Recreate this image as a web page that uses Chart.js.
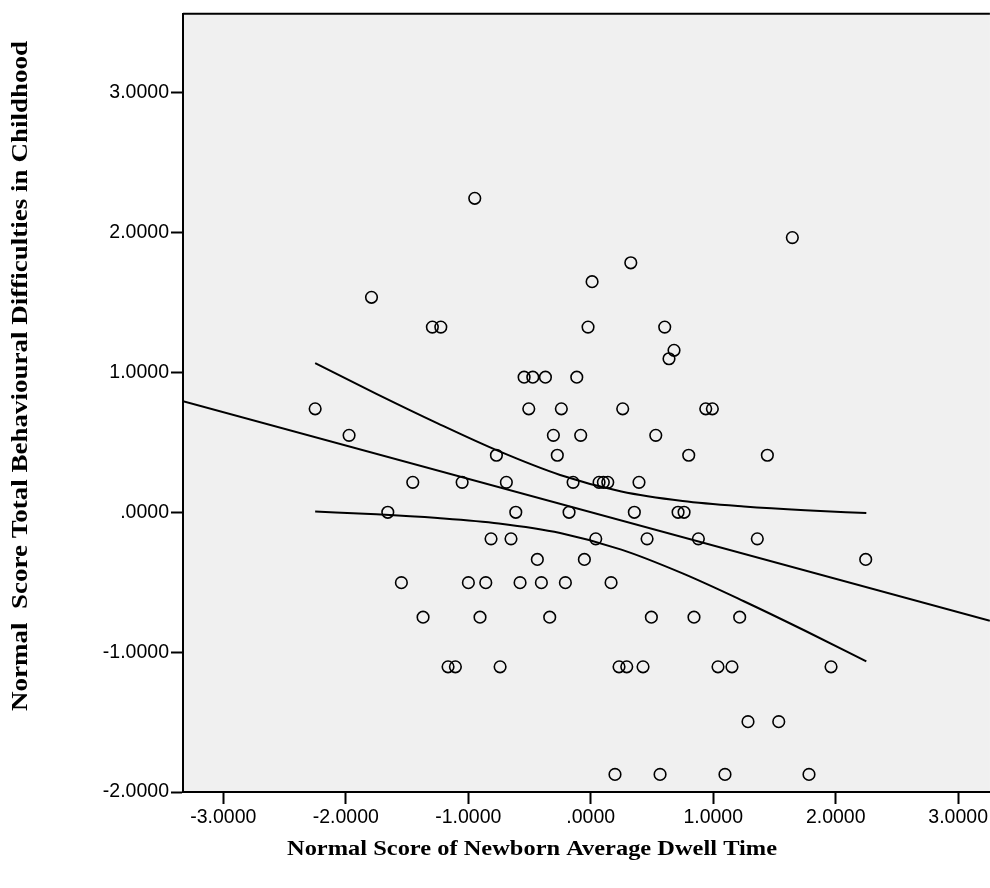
<!DOCTYPE html>
<html>
<head>
<meta charset="utf-8">
<script src="https://cdn.jsdelivr.net/npm/chart.js@4.4.1/dist/chart.umd.min.js"></script>
<style>
  html, body { margin: 0; padding: 0; background: #fff; }
</style>
</head>
<body>
<canvas id="scatterChart" width="990" height="888"></canvas>
<script>
// Observed cases (normal scores)
const dwellScore = [
  -0.947, 1.646, 0.327, 0.011, -1.790, -1.293, -1.224, -0.022, 0.604, 0.680,
  0.639, -0.544, -0.473, -0.370, -0.114, -2.250, -0.506, -0.240, 0.261, 0.939,
  0.993, -1.973, -0.305, -0.082, 0.531, -0.770, -0.273, 0.800, 1.442, -1.453,
  -1.050, -0.689, -0.144, 0.068, 0.103, 0.139, 0.394, -1.657, -0.612, -0.177,
  0.356, 0.713, 0.762, -0.814, -0.651, 0.041, 0.460, 0.879, 1.360, -0.436,
  -0.052, 2.245, -1.546, -0.999, -0.857, -0.577, -0.403, -0.207, 0.166, -1.369,
  -0.904, -0.335, 0.495, 0.843, 1.216, -1.165, -1.105, -0.740, 0.231, 0.294,
  0.427, 1.039, 1.153, 1.962, 1.284, 1.535, 0.198, 0.566, 1.096, 1.782
];
const behaviourScore = [
  2.245, 1.964, 1.784, 1.649, 1.537, 1.324, 1.324, 1.324, 1.324, 1.158,
  1.098, 0.966, 0.966, 0.966, 0.966, 0.740, 0.740, 0.740, 0.740, 0.740,
  0.740, 0.550, 0.550, 0.550, 0.550, 0.408, 0.408, 0.408, 0.408, 0.214,
  0.214, 0.214, 0.214, 0.214, 0.214, 0.214, 0.214, 0.000, 0.000, 0.000,
  0.000, 0.000, 0.000, -0.190, -0.190, -0.190, -0.190, -0.190, -0.190, -0.337,
  -0.337, -0.337, -0.503, -0.503, -0.503, -0.503, -0.503, -0.503, -0.503, -0.750,
  -0.750, -0.750, -0.750, -0.750, -0.750, -1.105, -1.105, -1.105, -1.105, -1.105,
  -1.105, -1.105, -1.105, -1.105, -1.497, -1.497, -1.874, -1.874, -1.874, -1.874
];

// Fit line, read at the two plot edges
const fitX = [-3.329, 3.259];
const fitY = [0.794, -0.775];

// 95% confidence band
const bandX = [-2.25, -1.75, -1.25, -0.75, -0.25, 0.25, 0.75, 1.25, 1.75, 2.25];
const bandUpper = [1.066, 0.847, 0.636, 0.437, 0.267, 0.148, 0.080, 0.041, 0.014, -0.005];
const bandLower = [0.005, -0.014, -0.041, -0.080, -0.148, -0.267, -0.437, -0.636, -0.847, -1.066];

// Axes
const xTickValues = [-3, -2, -1, 0, 1, 2, 3];
const xTickLabels = ['-3.0000', '-2.0000', '-1.0000', '.0000', '1.0000', '2.0000', '3.0000'];
const yTickValues = [-2, -1, 0, 1, 2, 3];
const yTickLabels = ['-2.0000', '-1.0000', '.0000', '1.0000', '2.0000', '3.0000'];
const xTitle = 'Normal Score of Newborn Average Dwell Time';
const yTitle = 'Normal  Score Total Behavioural Difficulties in Childhood';

const toPoints = (xs, ys) => xs.map((x, i) => ({ x: x, y: ys[i] }));

// draw a title stretched to a given length (the original export is widened)
function drawTitle(ctx, text, size, length) {
  ctx.font = 'bold ' + size + 'px "Liberation Serif", "Times New Roman", serif';
  const w = ctx.measureText(text).width;
  ctx.scale(length / w, 1);
  ctx.fillText(text, 0, 0);
}

// Grey plot panel, top border and the two axis titles
const plotFrame = {
  id: 'plotFrame',
  beforeDraw(chart) {
    const { ctx, chartArea: a } = chart;
    ctx.save();
    ctx.fillStyle = '#f0f0f0';
    ctx.fillRect(a.left, a.top, a.right - a.left, a.bottom - a.top);
    ctx.restore();
  },
  afterDraw(chart) {
    const { ctx, chartArea: a } = chart;
    ctx.save();
    ctx.strokeStyle = '#000';
    ctx.lineWidth = 2;
    ctx.beginPath();
    ctx.moveTo(a.left, a.top);
    ctx.lineTo(a.right, a.top);
    ctx.stroke();

    ctx.fillStyle = '#000';
    ctx.textAlign = 'center';
    ctx.textBaseline = 'middle';

    ctx.save();
    ctx.translate(532, 849);
    drawTitle(ctx, xTitle, 22, 490);
    ctx.restore();

    ctx.save();
    ctx.translate(21, 376);
    ctx.rotate(-Math.PI / 2);
    drawTitle(ctx, yTitle, 23, 670);
    ctx.restore();

    ctx.restore();
  }
};

const tickFont = { family: '"Liberation Sans", Arial, sans-serif', size: 19.5 };

const ctx = document.getElementById('scatterChart').getContext('2d');
const chart = new Chart(ctx, {
  type: 'scatter',
  data: {
    datasets: [
      {
        label: 'Cases',
        data: toPoints(dwellScore, behaviourScore),
        pointStyle: 'circle',
        pointRadius: 5.8,
        pointBorderWidth: 1.6,
        borderColor: '#000',
        backgroundColor: 'rgba(0,0,0,0)'
      },
      {
        label: 'Fit line',
        data: toPoints(fitX, fitY),
        showLine: true,
        borderColor: '#000',
        borderWidth: 2,
        pointRadius: 0
      },
      {
        label: 'Upper 95% CI',
        data: toPoints(bandX, bandUpper),
        showLine: true,
        cubicInterpolationMode: 'monotone',
        borderColor: '#000',
        borderWidth: 2,
        pointRadius: 0
      },
      {
        label: 'Lower 95% CI',
        data: toPoints(bandX, bandLower),
        showLine: true,
        cubicInterpolationMode: 'monotone',
        borderColor: '#000',
        borderWidth: 2,
        pointRadius: 0
      }
    ]
  },
  options: {
    responsive: false,
    animation: false,
    layout: { padding: { top: 10, left: 0, right: 0, bottom: 0 }, autoPadding: false },
    plugins: {
      legend: { display: false },
      tooltip: { enabled: false }
    },
    scales: {
      x: {
        type: 'linear',
        min: -3.329,
        max: 3.259,
        afterBuildTicks: (scale) => { scale.ticks = xTickValues.map(v => ({ value: v })); },
        afterFit: (scale) => { scale.height = 96; },
        ticks: {
          color: '#000',
          font: tickFont,
          padding: 2,
          maxRotation: 0,
          callback: (value) => xTickLabels[xTickValues.indexOf(value)]
        },
        grid: { drawOnChartArea: false, drawTicks: true, tickLength: 12, tickColor: '#000', tickWidth: 2 },
        border: { display: true, color: '#000', width: 2 }
      },
      y: {
        type: 'linear',
        min: -2,
        max: 3.565,
        afterBuildTicks: (scale) => { scale.ticks = yTickValues.map(v => ({ value: v })); },
        afterFit: (scale) => { scale.width = 183; },
        ticks: {
          color: '#000',
          font: tickFont,
          padding: 2,
          callback: (value) => yTickLabels[yTickValues.indexOf(value)]
        },
        grid: { drawOnChartArea: false, drawTicks: true, tickLength: 12, tickColor: '#000', tickWidth: 2 },
        border: { display: true, color: '#000', width: 2 }
      }
    }
  },
  plugins: [plotFrame]
});
</script>
</body>
</html>
